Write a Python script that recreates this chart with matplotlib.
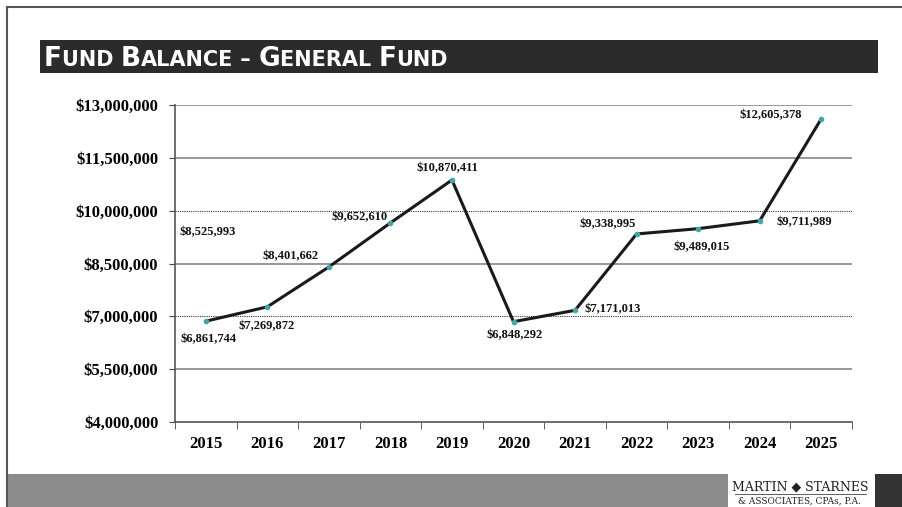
import matplotlib
matplotlib.use("Agg")
import matplotlib.pyplot as plt
import matplotlib.patches as patches
from matplotlib.ticker import FuncFormatter, FixedLocator

# Daten
years = ["2015", "2016", "2017", "2018", "2019", "2020", "2021", "2022", "2023", "2024", "2025"]
balance = [6861744, 7269872, 8401662, 9652610, 10870411, 6848292, 7171013, 9338995, 9489015, 9711989, 12605378]
# Beschriftungsversatz (Pixel) pro Punkt
label_dx = [3, -1, -38, -31, -5, 1, 38, -29, 4, 45, -50]
label_dy = [-18, -19, 11, 6, 12, -13, 1, 10, -18, -1, 4]
stray_label = "$8,525,993"
stray_value = 8525993
y_ticks = [4000000, 5500000, 7000000, 8500000, 10000000, 11500000, 13000000]

W, H = 903, 507
fig = plt.figure(figsize=(W / 100, H / 100), dpi=100)
fig.patch.set_facecolor("white")

# Folienrahmen
fig.add_artist(plt.Line2D([7 / W, 1], [1 - 7 / H, 1 - 7 / H], color="#555555", lw=1.5))
fig.add_artist(plt.Line2D([7 / W, 7 / W], [0, 1 - 7 / H], color="#555555", lw=1.5))

# Titelbalken
fig.add_artist(patches.Rectangle((40 / W, 1 - 73 / H), 838 / W, 33 / H,
                                 transform=fig.transFigure, facecolor="#2b2b2b", edgecolor="none"))

# Kapitälchen-Titel: Stück für Stück setzen
renderer = fig.canvas.get_renderer()
title_parts = [("F", 19), ("UND ", 15), ("B", 19), ("ALANCE", 15), (" – ", 15),
               ("G", 19), ("ENERAL ", 15), ("F", 19), ("UND", 15)]
x = 44 / W
for txt, size in title_parts:
    t = fig.text(x, 1 - 66 / H, txt, color="white", fontsize=size, fontweight="bold",
                 family="DejaVu Sans", ha="left", va="baseline")
    bb = t.get_window_extent(renderer=renderer)
    x = bb.x1 / W

# Fußleiste
fig.add_artist(patches.Rectangle((7 / W, 0), 721 / W, 33 / H, transform=fig.transFigure,
                                 facecolor="#8c8c8c", edgecolor="none"))
fig.add_artist(patches.Rectangle((875 / W, 0), 28 / W, 33 / H, transform=fig.transFigure,
                                 facecolor="#333333", edgecolor="none"))
fig.text(800 / W, 1 - 487 / H, "MARTIN ◆ STARNES", fontsize=9, family="DejaVu Serif",
         color="#222222", ha="center", va="center")
fig.add_artist(plt.Line2D([735 / W, 866 / W], [1 - 494 / H, 1 - 494 / H], color="#444444", lw=0.6))
fig.text(800 / W, 1 - 501 / H, "& ASSOCIATES, CPAs, P.A.", fontsize=6.5, family="DejaVu Serif",
         color="#222222", ha="center", va="center")

# Diagramm
ax = fig.add_axes([175 / W, 85 / H, 677 / W, 317 / H])
xs = list(range(len(years)))
ax.plot(xs, balance, color="#1a1a1a", lw=2.2, zorder=3)
ax.scatter(xs, balance, s=9, color="#3fa7a7", zorder=4)

ax.set_xlim(-0.5, len(years) - 0.5)
ax.set_ylim(4000000, 13000000)
ax.set_yticks(y_ticks)
ax.yaxis.set_major_formatter(FuncFormatter(lambda v, p: f"${v:,.0f}"))
ax.set_xticks(xs)
ax.set_xticklabels(years)
ax.xaxis.set_minor_locator(FixedLocator([i - 0.5 for i in range(len(years) + 1)]))
ax.tick_params(axis="x", which="major", length=0, pad=10)
ax.tick_params(axis="x", which="minor", length=5, color="#444444")
ax.tick_params(axis="y", length=4, color="#444444", pad=8)

for lbl in ax.get_xticklabels() + ax.get_yticklabels():
    lbl.set_fontfamily("Liberation Serif")
    lbl.set_fontweight("bold")
    lbl.set_fontsize(12)

for s in ["top", "right"]:
    ax.spines[s].set_visible(False)
for s in ["left", "bottom"]:
    ax.spines[s].set_color("#555555")
    ax.spines[s].set_linewidth(1.2)

for v in y_ticks[1:]:
    if v in (7000000, 10000000):
        ax.axhline(v, color="#333333", lw=0.8, ls=(0, (1, 1)), zorder=1)
    else:
        ax.axhline(v, color="#888888", lw=1.2, zorder=1)

for i, v in enumerate(balance):
    ax.annotate(f"${v:,.0f}", (i, v), xytext=(label_dx[i], label_dy[i]), textcoords="offset pixels",
                ha="center", va="center", fontsize=9, fontweight="bold",
                family="Liberation Serif", color="#111111", zorder=5)

ax.annotate(stray_label, (0, stray_value), xytext=(2, 30), textcoords="offset pixels",
            ha="center", va="center", fontsize=9, fontweight="bold",
            family="Liberation Serif", color="#111111")

fig.savefig("out.png", dpi=100)
